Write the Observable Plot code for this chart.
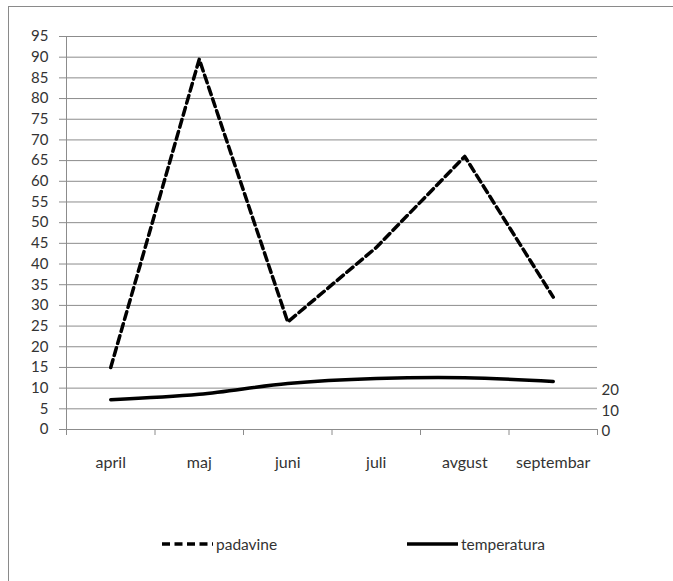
<!DOCTYPE html>
<html>
<head>
<meta charset="utf-8">
<script src="https://cdn.jsdelivr.net/npm/d3@7"></script>
<script src="https://cdn.jsdelivr.net/npm/@observablehq/plot@0.6"></script>
<style>
  html, body { margin: 0; padding: 0; background: #fff; }
  #wrap { position: relative; width: 673px; height: 581px; overflow: hidden; font-family: Lato, "Open Sans", sans-serif; }
  #frame { position: absolute; left: 8px; top: 6px; width: 700px; height: 600px; border-left: 1.5px solid #8a8a8a; border-top: 1.5px solid #8a8a8a; pointer-events: none; }
  #chart { position: absolute; left: 0; top: 0; }
  #legend { position: absolute; left: 0; top: 500px; width: 673px; height: 81px; font-size: 15.5px; color: #333; }
  .item { position: absolute; top: 35px; display: flex; align-items: center; }
  .item svg { display: block; }
  .item span { margin-left: 3px; }
</style>
</head>
<body>
<div id="wrap">
  <div id="chart"></div>
  <div id="legend">
    <div class="item" style="left:162px"><svg width="51" height="10"><line x1="0" y1="5" x2="51" y2="5" stroke="#000" stroke-width="3.5" stroke-dasharray="8,4.5"/></svg><span>padavine</span></div>
    <div class="item" style="left:407px"><svg width="51" height="10"><line x1="0" y1="5" x2="51" y2="5" stroke="#000" stroke-width="3.5"/></svg><span>temperatura</span></div>
  </div>
  <div id="frame"></div>
</div>
<script>
const months = ["april", "maj", "juni", "juli", "avgust", "septembar"];
const padavine = [15, 89.5, 26, 44, 66, 32];
const temperatura = [14.4, 17, 22.2, 24.6, 25, 23.2];
const leftTicks = d3.range(0, 96, 5);
const rightTicks = [0, 10, 20];

const rows = months.map((m, i) => ({i: i + 0.5, month: m, p: padavine[i], t: temperatura[i] / 2}));

const plot = Plot.plot({
  width: 673,
  height: 500,
  marginLeft: 66,
  marginRight: 76,
  marginTop: 36,
  marginBottom: 71,
  style: {fontFamily: "Lato, 'Open Sans', sans-serif", fontSize: "15px", color: "#333", background: "transparent"},
  x: {type: "linear", domain: [0, 6]},
  y: {type: "linear", domain: [0, 95]},
  marks: [
    Plot.gridY(leftTicks, {stroke: "#8c8c8c", strokeOpacity: 1, strokeWidth: 1}),
    Plot.axisY(leftTicks, {tickSize: 7, tickPadding: 11, stroke: "#8c8c8c", fontSize: 15, fill: "#333", label: null}),
    Plot.axisY(rightTicks.map(d => d / 2), {anchor: "right", tickSize: 0, tickPadding: 4, tickFormat: d => d * 2, fontSize: 15, fill: "#333", label: null, dy: 2}),
    Plot.axisX(d3.range(0, 7), {tickSize: 6, tickFormat: () => "", stroke: "#8c8c8c", label: null}),
    Plot.axisX(rows.map(d => d.i), {tickSize: 0, tickPadding: 27, tickFormat: d => months[Math.floor(d)], fontSize: 16, fill: "#333", label: null}),
    Plot.ruleX([0], {stroke: "#8c8c8c"}),
    Plot.ruleY([0], {stroke: "#8c8c8c"}),
    Plot.line(rows, {x: "i", y: "t", stroke: "#000", strokeWidth: 3.5, curve: "catmull-rom"}),
    Plot.line(rows, {x: "i", y: "p", stroke: "#000", strokeWidth: 3.5, strokeDasharray: "8,4.5"})
  ]
});
document.getElementById("chart").appendChild(plot);
</script>
</body>
</html>
